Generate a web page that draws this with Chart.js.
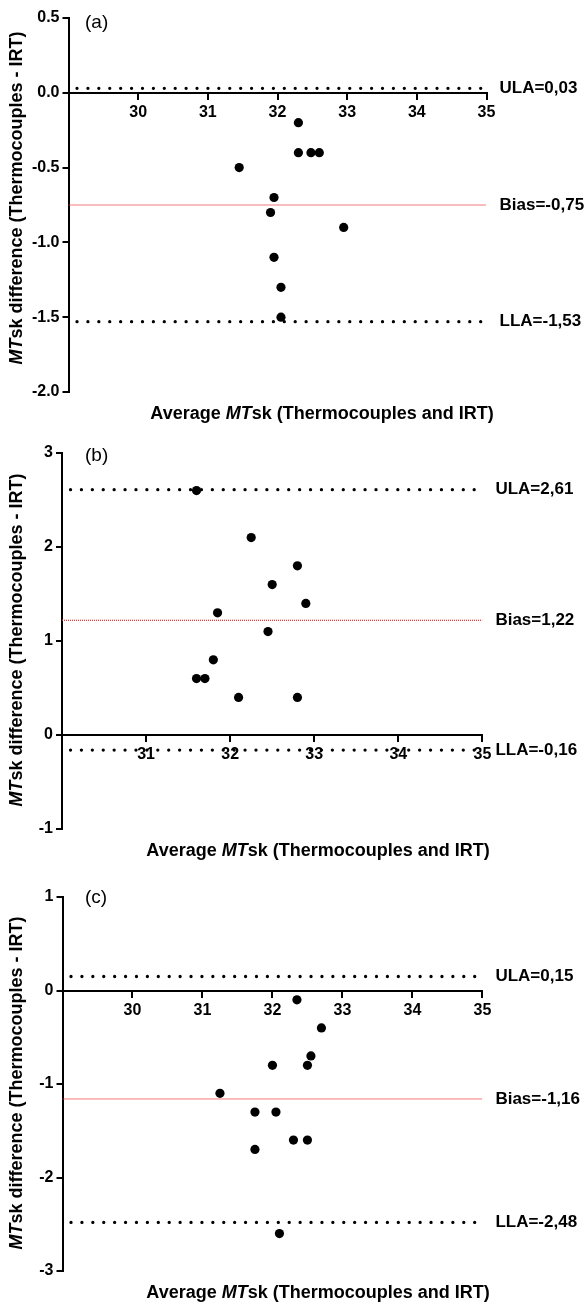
<!DOCTYPE html>
<html>
<head>
<meta charset="utf-8">
<script src="https://cdn.jsdelivr.net/npm/chart.js@4.4.1/dist/chart.umd.min.js"></script>
<style>
  html, body { margin: 0; padding: 0; background: #fff; }
  .painel { position: absolute; left: 0; width: 585px; height: 434px; }
</style>
</head>
<body>
<div class="painel" style="top:0"><canvas id="chartA" width="585" height="434"></canvas></div>
<div class="painel" style="top:434px"><canvas id="chartB" width="585" height="434"></canvas></div>
<div class="painel" style="top:868px"><canvas id="chartC" width="585" height="434"></canvas></div>
<script>
// (a)
const avgA = [32.3, 32.3, 32.48, 32.6, 31.45, 31.95, 31.9, 32.95, 31.95, 32.05, 32.05];
const diffA = [-0.2, -0.4, -0.4, -0.4, -0.5, -0.7, -0.8, -0.9, -1.1, -1.3, -1.5];
const limitsA = [0.03, -0.75, -1.53]; // ULA, Bias, LLA
const xTicksA = [29, 30, 31, 32, 33, 34, 35];
const yTicksA = [-2.0, -1.5, -1.0, -0.5, 0.0, 0.5];

// (b)
const avgB = [31.6, 32.25, 32.8, 32.5, 32.9, 31.85, 32.45, 31.8, 31.6, 31.7, 32.1, 32.8];
const diffB = [2.6, 2.1, 1.8, 1.6, 1.4, 1.3, 1.1, 0.8, 0.6, 0.6, 0.4, 0.4];
const limitsB = [2.61, 1.22, -0.16];
const xTicksB = [30, 31, 32, 33, 34, 35];
const yTicksB = [-1, 0, 1, 2, 3];

// (c)
const avgC = [32.35, 32.7, 32.55, 32.0, 32.5, 31.25, 31.75, 32.05, 32.3, 32.5, 31.75, 32.1];
const diffC = [-0.1, -0.4, -0.7, -0.8, -0.8, -1.1, -1.3, -1.3, -1.6, -1.6, -1.7, -2.6];
const limitsC = [0.15, -1.16, -2.48];
const xTicksC = [29, 30, 31, 32, 33, 34, 35];
const yTicksC = [-3, -2, -1, 0, 1];

const limitNames = ['ULA', 'Bias', 'LLA'];
const FONTE = '"Liberation Sans", Arial, Helvetica, sans-serif';

// writes pieces of text, the middle one in italic (for "MT")
function escreveMisto(ctx, partes, x, y) {
  const fontes = ['bold 18px ' + FONTE, 'italic bold 18px ' + FONTE, 'bold 18px ' + FONTE];
  let total = 0;
  partes.forEach((p, i) => { ctx.font = fontes[i]; total += ctx.measureText(p).width; });
  let pos = x - total / 2;
  ctx.textAlign = 'left';
  partes.forEach((p, i) => {
    ctx.font = fontes[i];
    ctx.fillText(p, pos, y);
    pos += ctx.measureText(p).width;
  });
}

const textos = {
  id: 'textos',
  afterDraw(chart, args, opts) {
    const {ctx, chartArea, scales} = chart;
    ctx.save();
    ctx.fillStyle = '#000';
    ctx.textBaseline = 'middle';
    ctx.textAlign = 'left';
    ctx.font = 'bold 17px ' + FONTE;
    opts.limites.forEach((v, i) => {
      const txt = limitNames[i] + '=' + v.toFixed(2).replace('.', ',');
      ctx.fillText(txt, chartArea.right + 13, scales.y.getPixelForValue(v));
    });
    ctx.font = '19px ' + FONTE;
    ctx.fillText(opts.letra, 85, opts.letraY);

    ctx.textBaseline = 'alphabetic';
    escreveMisto(ctx, ['Average ', 'MT', 'sk (Thermocouples and IRT)'], opts.tituloX, opts.tituloY);

    ctx.translate(22, opts.yTituloMeio);
    ctx.rotate(-Math.PI / 2);
    escreveMisto(ctx, ['', 'MT', 'sk difference (Thermocouples - IRT)'], 0, 0);
    ctx.restore();
  }
};

function montaPainel(id, avg, diff, limites, xTicks, yTicks, casas, lay) {
  const xMin = xTicks[0];
  const xMax = xTicks[xTicks.length - 1];
  const pontos = avg.map((a, i) => ({x: a, y: diff[i]}));
  const linha = (v) => [{x: xMin, y: v}, {x: xMax, y: v}];

  return new Chart(document.getElementById(id), {
    type: 'scatter',
    data: {
      datasets: [
        {
          data: pontos,
          backgroundColor: '#000',
          borderWidth: 0,
          pointRadius: 4.6,
          pointHoverRadius: 4.6
        },
        {
          type: 'line', data: linha(limites[0]),
          borderColor: '#000', borderWidth: 3.3, borderDash: [0.01, 10.9], borderDashOffset: 2.4,
          borderCapStyle: 'round', pointRadius: 0, fill: false
        },
        {
          type: 'line', data: linha(limites[1]),
          borderColor: 'rgb(240,50,50)', borderWidth: 1.3, borderDash: [1, 1],
          pointRadius: 0, fill: false
        },
        {
          type: 'line', data: linha(limites[2]),
          borderColor: '#000', borderWidth: 3.3, borderDash: [0.01, 10.9], borderDashOffset: 2.4,
          borderCapStyle: 'round', pointRadius: 0, fill: false
        }
      ]
    },
    options: {
      responsive: false,
      animation: false,
      layout: { padding: { left: 0, right: lay.right, top: lay.top, bottom: lay.bottom } },
      plugins: {
        legend: { display: false },
        tooltip: { enabled: false },
        textos: {
          limites: limites,
          letra: lay.letra,
          letraY: lay.letraY,
          tituloX: lay.tituloX,
          tituloY: lay.tituloY,
          yTituloMeio: lay.yTituloMeio
        }
      },
      scales: {
        x: {
          type: 'linear',
          position: { y: 0 },
          min: xMin,
          max: xMax,
          afterBuildTicks: (s) => { s.ticks = xTicks.map(v => ({value: v})); },
          grid: { drawOnChartArea: false, color: '#000', lineWidth: 2, tickLength: 6 },
          border: { display: true, color: '#000', width: 2 },
          ticks: {
            color: '#000',
            padding: 4,
            maxRotation: 0,
            autoSkip: false,
            font: { family: FONTE, size: 16, weight: 'bold' },
            callback: (v) => (v === xMin ? '' : String(v))
          }
        },
        y: {
          type: 'linear',
          position: 'left',
          min: yTicks[0],
          max: yTicks[yTicks.length - 1],
          afterBuildTicks: (s) => { s.ticks = yTicks.map(v => ({value: v})); },
          afterFit: (s) => { s.width = lay.left; },
          grid: { drawOnChartArea: false, color: '#000', lineWidth: 2, tickLength: 6 },
          border: { display: true, color: '#000', width: 2 },
          ticks: {
            color: '#000',
            padding: 3,
            autoSkip: false,
            font: { family: FONTE, size: 16, weight: 'bold' },
            callback: (v) => Number(v).toFixed(casas)
          }
        }
      }
    },
    plugins: [textos]
  });
}

montaPainel('chartA', avgA, diffA, limitsA, xTicksA, yTicksA, 1, {
  left: 68.5, right: 98.5, top: 18, bottom: 42,
  letra: '(a)', letraY: 23, tituloX: 322, tituloY: 419, yTituloMeio: 198
});
montaPainel('chartB', avgB, diffB, limitsB, xTicksB, yTicksB, 0, {
  left: 62, right: 102.6, top: 19, bottom: 39,
  letra: '(b)', letraY: 22, tituloX: 318, tituloY: 422, yTituloMeio: 206
});
montaPainel('chartC', avgC, diffC, limitsC, xTicksC, yTicksC, 0, {
  left: 62.5, right: 102.6, top: 29, bottom: 31,
  letra: '(c)', letraY: 30, tituloX: 318, tituloY: 430, yTituloMeio: 215
});
</script>
</body>
</html>
